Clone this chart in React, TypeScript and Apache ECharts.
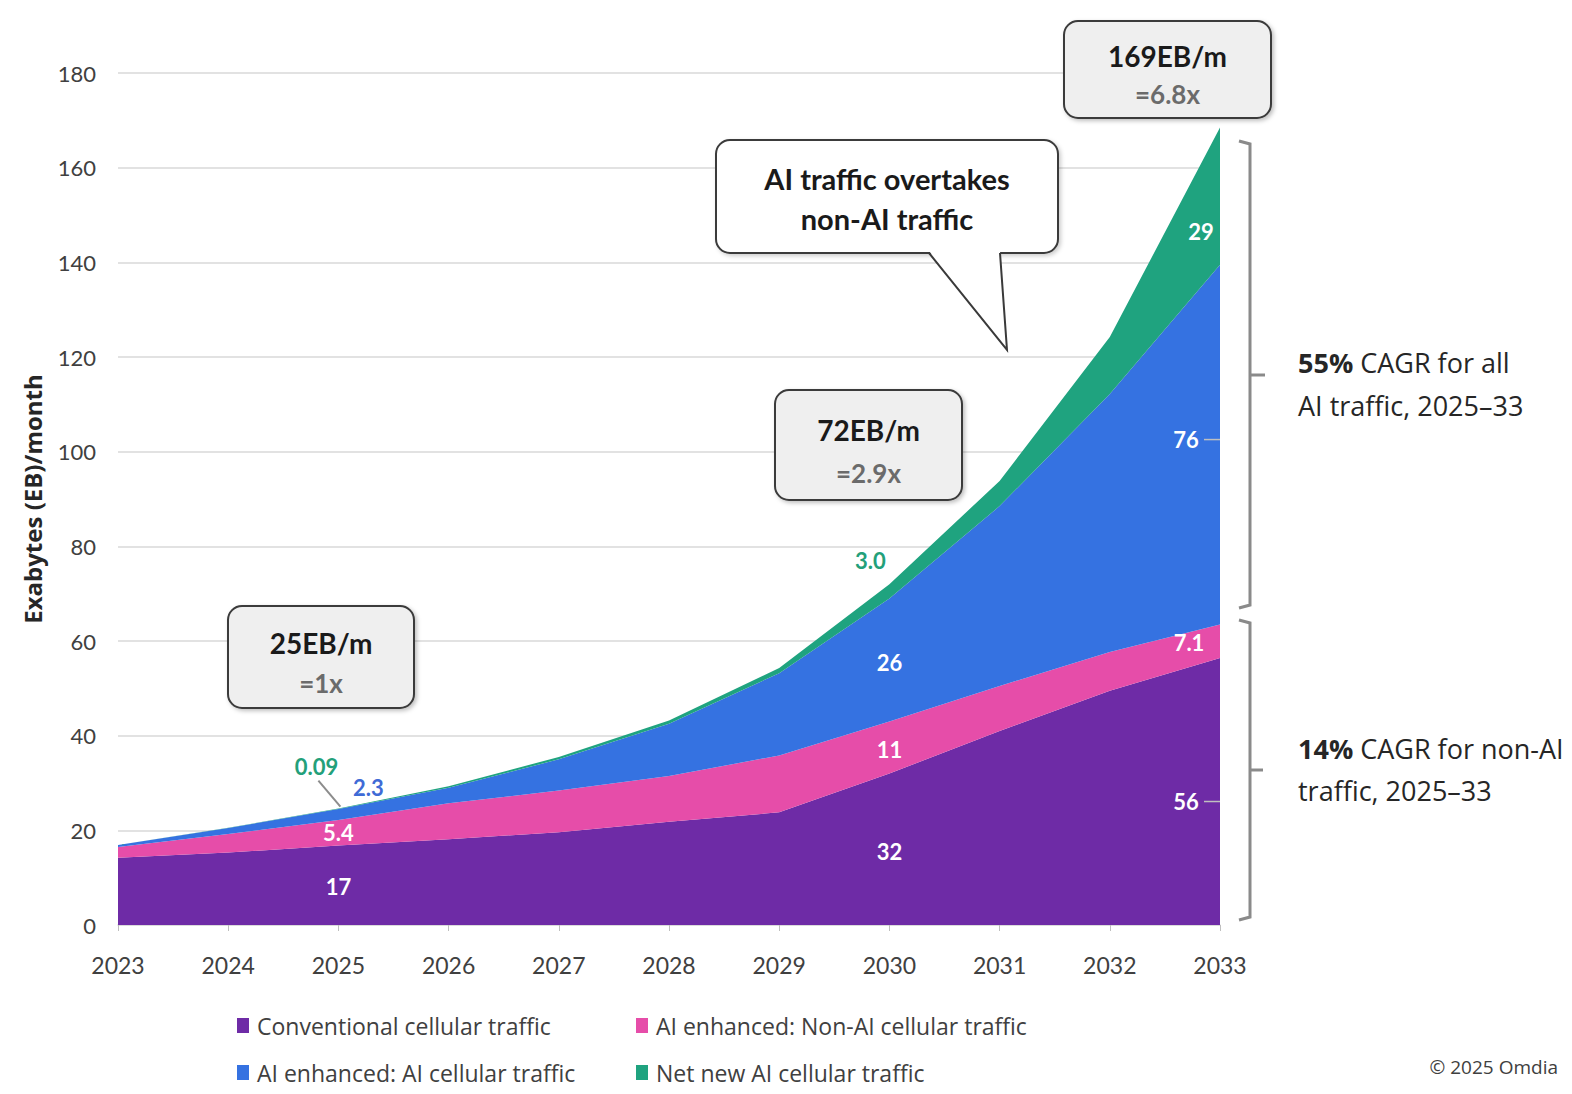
import React, { useEffect, useRef } from 'react';
import * as echarts from 'echarts';

const years = ['2023', '2024', '2025', '2026', '2027', '2028', '2029', '2030', '2031', '2032', '2033'];
const seriesNames = [
  'Conventional cellular traffic',
  'AI enhanced: Non-AI cellular traffic',
  'AI enhanced: AI cellular traffic',
  'Net new AI cellular traffic',
];
const conventional = [14.2, 15.3, 16.8, 18.1, 19.6, 21.8, 23.8, 32.0, 41.0, 49.5, 56.4];
const aiEnhancedNonAi = [2.3, 3.9, 5.4, 7.6, 8.8, 9.7, 12.0, 11.0, 9.5, 8.2, 7.1];
const aiEnhancedAi = [0.4, 1.3, 2.3, 3.3, 6.6, 11.0, 17.4, 26.0, 38.0, 54.5, 76.0];
const netNewAi = [0.0, 0.02, 0.09, 0.3, 0.5, 0.7, 1.1, 3.0, 5.3, 12.0, 29.0];
const seriesValues = [conventional, aiEnhancedNonAi, aiEnhancedAi, netNewAi];

// data labels: series index, category index, text
const labelSeries = [0, 1, 2, 3, 0, 1, 2, 3, 0, 1, 2, 3];
const labelIndex = [2, 2, 2, 2, 7, 7, 7, 7, 10, 10, 10, 10];
const labelTexts = ['17', '5.4', '2.3', '0.09', '32', '11', '26', '3.0', '56', '7.1', '76', '29'];

const totals = ['25EB/m', '72EB/m', '169EB/m'];
const multiples = ['=1x', '=2.9x', '=6.8x'];

const COLORS = ['#6E2BA6', '#E64DA9', '#3572E1', '#1FA37F'];
const FONT = 'Lato, "Open Sans", sans-serif';
const NARROW = '"Liberation Sans Narrow", "Open Sans", sans-serif';

export default function App() {
  const ref = useRef<HTMLDivElement>(null);
  useEffect(() => {
    if (!ref.current) return;
    const chart = echarts.init(ref.current, undefined, { renderer: 'svg' });
    const option: any = {
      animation: false,
      backgroundColor: '#ffffff',
      grid: { left: 118, right: 352, top: 73, bottom: 169 },
      legend: seriesNames.map((name, i) => ({
        data: [name],
        left: [237, 636, 237, 636][i],
        top: [1014, 1014, 1061, 1061][i],
        icon: 'rect',
        itemWidth: 12,
        itemHeight: 15,
        padding: 0,
        selectedMode: false,
        textStyle: { fontSize: 23, color: '#404040', fontFamily: NARROW, padding: [0, 0, 0, 3] },
      })),
      xAxis: {
        type: 'category',
        boundaryGap: false,
        data: years,
        axisLine: { show: true, lineStyle: { color: '#d9d9d9', width: 1.5 } },
        axisTick: { show: true, alignWithLabel: true, length: 6, lineStyle: { color: '#bfbfbf' } },
        axisLabel: { interval: 0, fontSize: 23, color: '#404040', margin: 28, fontFamily: FONT },
      },
      yAxis: {
        type: 'value',
        min: 0,
        max: 180,
        interval: 20,
        name: 'Exabytes (EB)/month',
        nameLocation: 'middle',
        nameGap: 74,
        nameTextStyle: { fontSize: 24, fontWeight: 'bold', color: '#262626', fontFamily: '"Open Sans", sans-serif' },
        axisLabel: { fontSize: 22, color: '#404040', margin: 22, fontFamily: FONT },
        axisLine: { show: false },
        axisTick: { show: false },
        splitLine: { lineStyle: { color: '#d9d9d9', width: 1.5 } },
      },
      series: seriesValues.map((vals, i) => ({
        name: seriesNames[i],
        type: 'line',
        stack: 'total',
        data: vals,
        symbol: 'none',
        smooth: false,
        itemStyle: { color: COLORS[i] },
        lineStyle: { width: 0, color: COLORS[i] },
        areaStyle: { color: COLORS[i], opacity: 1 },
      })),
    };
    chart.setOption(option);

    const cum = (s: number, i: number) => {
      let v = 0;
      for (let k = 0; k <= s; k++) v += seriesValues[k][i];
      return v;
    };
    const px = (i: number, v: number) => chart.convertToPixel({ gridIndex: 0 }, [i, v]) as number[];

    // placement: anchor mode (mid of band or top), dx, dy, colour
    const place: [string, number, number, string][] = [
      ['mid', 0, 1, '#ffffff'],
      ['mid', 0, 0, '#ffffff'],
      ['top', 30, -22, '#3F6BD6'],
      ['top', -22, -42, '#23A07A'],
      ['mid', 0, 2, '#ffffff'],
      ['mid', 0, 2, '#ffffff'],
      ['mid', 0, 3, '#ffffff'],
      ['top', -19, -24, '#23A07A'],
      ['mid', -34, 10, '#ffffff'],
      ['mid', -31, 1, '#ffffff'],
      ['mid', -34, -5, '#ffffff'],
      ['mid', -19, 35, '#ffffff'],
    ];
    const graphics: any[] = [];
    const tx = (x: number, y: number, text: string, font: string, fill: string, align = 'center', extra: any = {}) => ({
      type: 'text',
      x,
      y,
      z: 100,
      style: {
        text,
        font,
        fill,
        align,
        verticalAlign: 'middle',
        textAlign: align,
        textVerticalAlign: 'middle',
        ...extra,
      },
    });
    const leaderPts: number[][] = [];
    labelTexts.forEach((t, k) => {
      const s = labelSeries[k];
      const i = labelIndex[k];
      const top = cum(s, i);
      const bottom = top - seriesValues[s][i];
      const [mode, dx, dy, col] = place[k];
      const p = mode === 'mid' ? px(i, (top + bottom) / 2) : px(i, top);
      graphics.push(tx(p[0] + dx, p[1] + dy, t, `bold 22px ${FONT}`, col));
      if (k === 3) leaderPts.push([p[0] + dx + 2, p[1] + dy + 14], [p[0] + 2, p[1] - 2]);
      if (k === 8 || k === 10) {
        graphics.push({ type: 'line', z: 100, shape: { x1: p[0] - 16, y1: p[1] + dy, x2: p[0], y2: p[1] + dy }, style: { stroke: '#bfbfbf', lineWidth: 1.5 } });
      }
    });
    if (leaderPts.length) {
      graphics.push({ type: 'line', z: 100, shape: { x1: leaderPts[0][0], y1: leaderPts[0][1], x2: leaderPts[1][0], y2: leaderPts[1][1] }, style: { stroke: '#8c8c8c', lineWidth: 2 } });
    }

    // annotation boxes
    const boxes = [
      [228, 606, 186, 102],
      [775, 390, 187, 110],
      [1064, 21, 207, 97],
    ];
    boxes.forEach((b, k) => {
      graphics.push({
        type: 'rect',
        z: 90,
        shape: { x: b[0], y: b[1], width: b[2], height: b[3], r: 14 },
        style: { fill: '#efefef', stroke: '#3a3a3a', lineWidth: 2, shadowBlur: 4, shadowOffsetX: 2, shadowOffsetY: 2, shadowColor: 'rgba(0,0,0,0.25)' },
      });
      const cx = b[0] + b[2] / 2;
      graphics.push(tx(cx, b[1] + b[3] * 0.36, totals[k], `bold 28px ${FONT}`, '#1a1a1a'));
      graphics.push(tx(cx, b[1] + b[3] * 0.75, multiples[k], `bold 26px ${FONT}`, '#6b6b6b'));
    });

    // speech bubble
    graphics.push({
      type: 'rect',
      z: 90,
      shape: { x: 716, y: 140, width: 342, height: 113, r: 14 },
      style: { fill: '#ffffff', stroke: '#3a3a3a', lineWidth: 2, shadowBlur: 4, shadowOffsetX: 2, shadowOffsetY: 2, shadowColor: 'rgba(0,0,0,0.2)' },
    });
    graphics.push({ type: 'polygon', z: 91, shape: { points: [[929, 251], [1007, 350], [1000, 251]] }, style: { fill: '#ffffff' } });
    graphics.push({ type: 'polyline', z: 92, shape: { points: [[929, 253], [1007, 350], [1000, 253]] }, style: { stroke: '#3a3a3a', lineWidth: 2, fill: null } });
    graphics.push(tx(887, 178, 'AI traffic overtakes', `bold 29px ${FONT}`, '#1a1a1a'));
    graphics.push(tx(887, 218, 'non-AI traffic', `bold 29px ${FONT}`, '#1a1a1a'));

    // brackets
    const br = { stroke: '#8a8a8a', lineWidth: 3, fill: null };
    graphics.push({ type: 'polyline', z: 80, shape: { points: [[1239, 141], [1250, 144], [1250, 605], [1239, 608]] }, style: br });
    graphics.push({ type: 'line', z: 80, shape: { x1: 1250, y1: 375, x2: 1265, y2: 375 }, style: br });
    graphics.push({ type: 'polyline', z: 80, shape: { points: [[1239, 620], [1250, 623], [1250, 917], [1239, 920]] }, style: br });
    graphics.push({ type: 'line', z: 80, shape: { x1: 1250, y1: 770, x2: 1263, y2: 770 }, style: br });

    const cagrFont = '"Open Sans", sans-serif';
    const rich = { b: { fontWeight: 'bold', fontSize: 27, fontFamily: cagrFont, fill: '#262626', color: '#262626' } };
    graphics.push(tx(1298, 362, '{b|55%} CAGR for all', `27px ${cagrFont}`, '#262626', 'left', { rich }));
    graphics.push(tx(1298, 405, 'AI traffic, 2025–33', `27px ${cagrFont}`, '#262626', 'left'));
    graphics.push(tx(1298, 748, '{b|14%} CAGR for non-AI', `27px ${cagrFont}`, '#262626', 'left', { rich }));
    graphics.push(tx(1298, 790, 'traffic, 2025–33', `27px ${cagrFont}`, '#262626', 'left'));

    graphics.push(tx(1558, 1067, '© 2025 Omdia', `19px ${NARROW}`, '#404040', 'right'));

    chart.setOption({ graphic: graphics });
    return () => chart.dispose();
  }, []);
  return <div ref={ref} style={{ position: 'absolute', left: 0, top: 0, width: 1572, height: 1094 }} />;
}
